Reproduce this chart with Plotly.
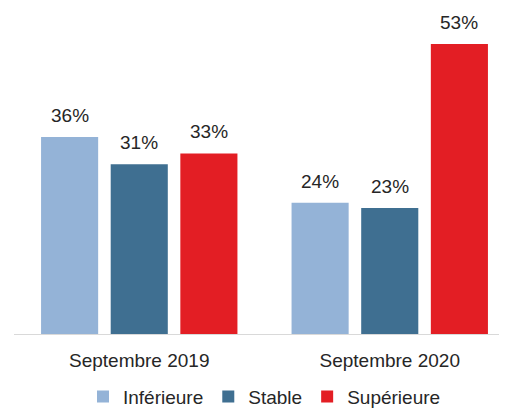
import plotly.graph_objects as go

# --- Data ---
categories = ["Septembre 2019", "Septembre 2020"]
series_names = ["Inférieure", "Stable", "Supérieure"]
inferieure = [36, 24]
stable = [31, 23]
superieure = [33, 53]

COLORS = ["#94B3D7", "#3F6F91", "#E31E24"]
TEXT_COLOR = "#262626"
FONT = "Liberation Sans, Arial, sans-serif"

fig = go.Figure()
for name, vals, color in zip(series_names, [inferieure, stable, superieure], COLORS):
    fig.add_trace(go.Bar(
        x=categories, y=vals, name=name, marker=dict(color=color, line=dict(width=0)),
        hoverinfo="skip",
    ))

# value labels above bars (annotations placed via the category axis)
n = len(series_names)
bargap, bargroupgap = 0.166, 0.18
slot = (1 - bargap) / n
annotations = []
for s, vals in enumerate([inferieure, stable, superieure]):
    offset = -(1 - bargap) / 2 + slot * (s + 0.5)
    for i, v in enumerate(vals):
        annotations.append(dict(
            x=i + offset, y=v, xref="x", yref="y", text=f"{v}%", showarrow=False,
            yanchor="bottom", yshift=9, font=dict(size=19, color=TEXT_COLOR, family=FONT),
        ))

# page body has an 8px default margin, so the figure is sized to fill the window
fig.update_layout(
    width=515, height=416,
    margin=dict(l=6, r=8, t=2, b=90),
    paper_bgcolor="white", plot_bgcolor="white",
    barmode="group", bargap=bargap, bargroupgap=bargroupgap,
    font=dict(family=FONT, color=TEXT_COLOR, size=19),
    xaxis=dict(
        type="category", range=[-0.5, 1.5],
        showline=True, linecolor="#D9D9D9", linewidth=1,
        showgrid=False, ticks="", tickfont=dict(size=19, color=TEXT_COLOR),
        ticklabelstandoff=9,
    ),
    yaxis=dict(range=[0, 59.2], visible=False, showgrid=False, zeroline=False),
    showlegend=True,
    legend=dict(
        orientation="h", x=0.5, xanchor="center", y=-0.193, yanchor="middle",
        font=dict(size=19, color=TEXT_COLOR), itemwidth=30, traceorder="normal",
        bgcolor="rgba(0,0,0,0)",
    ),
    annotations=annotations,
)

fig.write_html("out.html")
